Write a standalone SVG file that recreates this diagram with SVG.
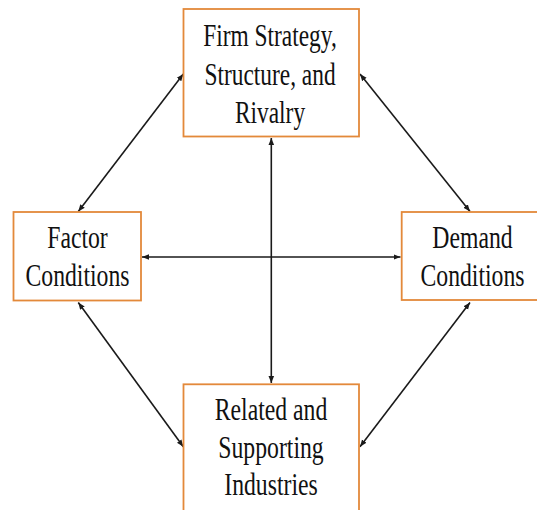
<svg xmlns="http://www.w3.org/2000/svg" width="537" height="510" viewBox="0 0 537 510">
<style>
.box{fill:#fff;stroke:#E3893A;stroke-width:1.8}
.lbl{font-family:"Liberation Serif","Times New Roman",serif;font-size:31px;fill:#111;text-anchor:middle}
.con{stroke:#1a1a1a;stroke-width:1.6;fill:none;marker-start:url(#ah);marker-end:url(#ah)}
</style>
<defs>
<marker id="ah" viewBox="0 0 10 10" refX="10" refY="5" markerWidth="7" markerHeight="7" markerUnits="userSpaceOnUse" orient="auto-start-reverse">
<path d="M0,1 L10,5 L0,9 z" fill="#1a1a1a"/>
</marker>
</defs>
<rect width="537" height="510" fill="#fff"/>
<g id="connectors">
<line class="con" x1="271.3" y1="138" x2="271.3" y2="383"/>
<line class="con" x1="142" y1="257" x2="400.5" y2="257"/>
<line class="con" x1="183.3" y1="74" x2="78.3" y2="211.5"/>
<line class="con" x1="360" y1="74" x2="470" y2="211.5"/>
<line class="con" x1="78.3" y1="302.5" x2="183.3" y2="446.7"/>
<line class="con" x1="470" y1="302.5" x2="360" y2="446.7"/>
</g>
<g id="firm">
<rect class="box" x="183.5" y="9" width="175.5" height="127.5"/>
<g transform="translate(270,0) scale(0.755,1)">
<text class="lbl" x="0" y="46.5">Firm Strategy,</text>
<text class="lbl" x="0" y="85">Structure, and</text>
<text class="lbl" x="0" y="123">Rivalry</text>
</g>
</g>
<g id="factor">
<rect class="box" x="13.5" y="212" width="127.5" height="88.5"/>
<g transform="translate(77.5,0) scale(0.765,1)">
<text class="lbl" x="0" y="248.5">Factor</text>
<text class="lbl" x="0" y="286">Conditions</text>
</g>
</g>
<g id="demand">
<rect class="box" x="401.7" y="212" width="142" height="88"/>
<g transform="translate(472.5,0) scale(0.765,1)">
<text class="lbl" x="0" y="248.5">Demand</text>
<text class="lbl" x="0" y="286">Conditions</text>
</g>
</g>
<g id="related">
<rect class="box" x="183.5" y="384.3" width="175.5" height="140"/>
<g transform="translate(271,0) scale(0.765,1)">
<text class="lbl" x="0" y="420">Related and</text>
<text class="lbl" x="0" y="458">Supporting</text>
<text class="lbl" x="0" y="495">Industries</text>
</g>
</g>
</svg>
